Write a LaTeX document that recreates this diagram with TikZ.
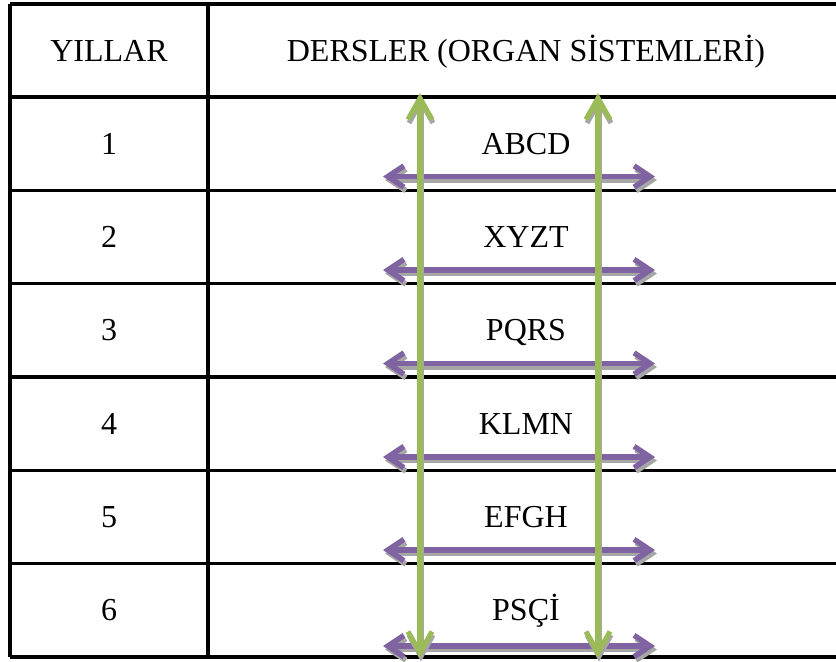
\documentclass[tikz,border=0pt]{standalone}
\usepackage{fontspec}
\setmainfont{Liberation Serif}
\usetikzlibrary{arrows.meta}
\definecolor{grn}{HTML}{9BBB59}
\definecolor{prp}{HTML}{8064A2}
\definecolor{shd}{HTML}{A6A6A6}
\begin{document}
\begin{tikzpicture}[x=0.75pt,y=-0.75pt,
  gridline/.style={line width=2.4pt,black},
  lbl/.style={font=\fontsize{24}{28}\selectfont,inner sep=0pt,anchor=base},
  parr/.style={prp,line width=4.1pt,{Straight Barb[length=12pt,width=16pt]}-{Straight Barb[length=12pt,width=16pt]}},
  garr/.style={grn,line width=3.8pt,{Straight Barb[length=16pt,width=18pt]}-{Straight Barb[length=16pt,width=18pt]}},
  sparr/.style={shd,line width=4.1pt,{Straight Barb[length=12pt,width=16pt]}-{Straight Barb[length=12pt,width=16pt]}},
  sgarr/.style={shd,line width=3.8pt,{Straight Barb[length=16pt,width=18pt]}-{Straight Barb[length=16pt,width=18pt]}}
]
\useasboundingbox (0,0) rectangle (836,661);
\begin{scope}
\clip (0,0) rectangle (836,661);
% table grid
\draw[gridline] (10,4) -- (850,4);
\draw[gridline] (10,97) -- (850,97);
\foreach \yy in {190.3,283.7,377,470.3,563.7} {\draw[gridline] (10,\yy) -- (850,\yy);}
\draw[gridline] (10,657) -- (850,657);
\draw[gridline] (10,4) -- (10,657);
\draw[gridline] (208,4) -- (208,657);
\end{scope}
% header
\node[lbl] (h1) at (109,61) {YILLAR};
\node[lbl] (h2) at (526,61) {DERSLER (ORGAN SİSTEMLERİ)};
% rows
\foreach \i/\yc/\txt in {1/143.7/ABCD,2/237/XYZT,3/330.3/PQRS,4/423.7/KLMN,5/517/EFGH,6/610.3/PSÇİ} {
  \node[lbl] (y\i) at (109,\yc+10.5) {\i};
  \node[lbl] (d\i) at (526,\yc+10.5) {\txt};
}
% purple arrow coordinates
\foreach \i/\py in {1/176.5,2/270,3/363.5,4/457,5/550,6/646} {
  \coordinate (pl\i) at (383,\py);
  \coordinate (pr\i) at (655,\py);
  \coordinate (spl\i) at (385,\py+3.5);
  \coordinate (spr\i) at (657,\py+3.5);
}
\foreach \i in {1,...,6} {\draw[sparr] (spl\i) -- (spr\i);}
\foreach \i in {1,...,6} {\draw[parr] (pl\i) -- (pr\i);}
% green arrows
\coordinate (gat) at (420,93);
\coordinate (gab) at (420,658);
\coordinate (gbt) at (598,93);
\coordinate (gbb) at (598,658);
\coordinate (sgat) at (421,96.5);
\coordinate (sgab) at (421,661.5);
\coordinate (sgbt) at (599,96.5);
\coordinate (sgbb) at (599,661.5);
\draw[sgarr] (sgat) -- (sgab);
\draw[sgarr] (sgbt) -- (sgbb);
\draw[garr] (gat) -- (gab);
\draw[garr] (gbt) -- (gbb);
\end{tikzpicture}
\end{document}
